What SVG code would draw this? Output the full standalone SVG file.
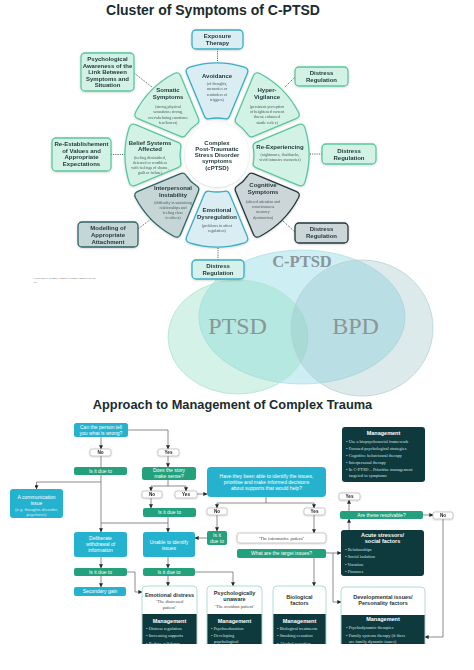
<svg xmlns="http://www.w3.org/2000/svg" width="474" height="670" viewBox="0 0 474 670">
<defs>
<style>
.s{font-family:"Liberation Sans",Arial,sans-serif}
.sb{font-family:"Liberation Sans",Arial,sans-serif;font-weight:bold}
.sf{font-family:"Liberation Serif","Times New Roman",serif}
.wt{font-family:"Liberation Sans",Arial,sans-serif;font-weight:bold;font-size:6px;fill:#1f3537;text-anchor:middle}
.wd{font-family:"Liberation Serif","Times New Roman",serif;font-size:4px;fill:#4a5a5a;text-anchor:middle}
.bt{font-family:"Liberation Sans",Arial,sans-serif;font-weight:bold;font-size:6px;fill:#1f3537;text-anchor:middle}
.mint{fill:#d3f2e6;stroke:#5cc6a0;stroke-width:1.3}
.blue{fill:#d9edf2;stroke:#3aaec6;stroke-width:1.3}
.gray{fill:#ccd6d8;stroke:#22383c;stroke-width:1.3}
.gteal{fill:#c6d6d6;stroke:#2f6467;stroke-width:1.3}
.dot{fill:none;stroke:#3c5a5c;stroke-width:1;stroke-dasharray:1 1.2}
.ln{fill:none;stroke:#707070;stroke-width:0.8}
.ar{marker-end:url(#ah)}
.cy{fill:#25b2cf}
.gr{fill:#22a17c}
.dk{fill:#0e3a3d}
.wl{fill:#fff;stroke:#a8a8a8;stroke-width:0.6}
.ft{font-family:"Liberation Sans",Arial,sans-serif;font-size:5px;fill:#fff;text-anchor:middle}
.lb{font-family:"Liberation Sans",Arial,sans-serif;font-weight:bold;font-size:4.6px;fill:#222;text-anchor:middle}
.mh{font-family:"Liberation Sans",Arial,sans-serif;font-weight:bold;font-size:5.5px;fill:#fff;text-anchor:middle}
.bu{font-family:"Liberation Serif","Times New Roman",serif;font-size:4.4px;fill:#cfe3e3}
.ht{font-family:"Liberation Sans",Arial,sans-serif;font-weight:bold;font-size:5.5px;fill:#1f3537;text-anchor:middle}
.hs{font-family:"Liberation Serif","Times New Roman",serif;font-size:4.5px;fill:#3a4a4a;text-anchor:middle}
.card{fill:#fff;stroke:#9ad6c4;stroke-width:0.8}
.vt{font-family:"Liberation Serif","Times New Roman",serif;fill:#8a9698;text-anchor:middle}
</style>
<path id="seg" d="M87.85,-27.36 A92,92 0 0 1 87.85,27.36 Q86.2,32.2 81.58,30.28 L39,12.63 Q35.3,11.1 36.28,7.25 A37,37 0 0 0 36.28,-7.25 Q35.3,-11.1 39,-12.63 L81.58,-30.28 Q86.2,-32.2 87.85,-27.36 Z"/>
<marker id="ah" viewBox="0 0 6 6" refX="5.5" refY="3" markerWidth="4" markerHeight="4" markerUnits="userSpaceOnUse" orient="auto"><path d="M0,0 L6,3 L0,6 z" fill="#1e2a2c"/></marker>
<filter id="sh" x="-20%" y="-20%" width="140%" height="140%"><feDropShadow dx="0" dy="0.6" stdDeviation="0.8" flood-color="#000" flood-opacity="0.2"/></filter>
<clipPath id="cut"><rect x="0" y="0" width="474" height="644"/></clipPath>
</defs>
<rect width="474" height="670" fill="#fff"/>

<text class="sb" x="213" y="14.5" font-size="14" text-anchor="middle" fill="#1b2b2d">Cluster of Symptoms of C-PTSD</text>

<!-- dotted connectors of wheel -->
<g id="wheel-connectors">
<path class="dot" d="M217.5,49 V62"/>
<path class="dot" d="M134,73 L152,87"/>
<path class="dot" d="M295,77 L284,88"/>
<path class="dot" d="M111,154.5 H126"/>
<path class="dot" d="M310,154 H322"/>
<path class="dot" d="M138,229 L151,219"/>
<path class="dot" d="M283,221 L295,232"/>
<path class="dot" d="M218,248 V260"/>
</g>

<!-- wheel segments -->
<g id="avoidance" filter="url(#sh)">
<use href="#seg" class="blue" transform="translate(217,155) rotate(-90)"/>
<text class="wt" x="217" y="78">Avoidance</text>
<text class="wd"><tspan x="217" y="85">(of thoughts,</tspan><tspan x="217" y="90">memories or</tspan><tspan x="217" y="95.5">reminders of</tspan><tspan x="217" y="100.5">triggers)</tspan></text>
</g>
<g id="hypervigilance" filter="url(#sh)">
<use href="#seg" class="mint" transform="translate(217,155) rotate(-45)"/>
<text class="wt"><tspan x="267" y="92">Hyper-</tspan><tspan x="267" y="99">Vigilance</tspan></text>
<text class="wd"><tspan x="267" y="107.5">(persistent perception</tspan><tspan x="267" y="113">of heightened current</tspan><tspan x="267" y="118">threat; enhanced</tspan><tspan x="267" y="123.5">startle reflex)</tspan></text>
</g>
<g id="reexperiencing" filter="url(#sh)">
<use href="#seg" class="mint" transform="translate(217,155)"/>
<text class="wt" x="280" y="149">Re-Experiencing</text>
<text class="wd"><tspan x="280" y="155.5">(nightmares, flashbacks,</tspan><tspan x="280" y="161">vivid intrusive memories)</tspan></text>
</g>
<g id="cognitive" filter="url(#sh)">
<use href="#seg" class="gray" transform="translate(217,155) rotate(45)"/>
<text class="wt"><tspan x="263" y="187">Cognitive</tspan><tspan x="263" y="194">Symptoms</tspan></text>
<text class="wd"><tspan x="263" y="202.5">(altered attention and</tspan><tspan x="263" y="207.5">consciousness</tspan><tspan x="263" y="213">memory</tspan><tspan x="263" y="218.5">dysfunction)</tspan></text>
</g>
<g id="emotional" filter="url(#sh)">
<use href="#seg" class="blue" transform="translate(217,155) rotate(90)"/>
<text class="wt"><tspan x="217" y="212">Emotional</tspan><tspan x="217" y="219">Dysregulation</tspan></text>
<text class="wd"><tspan x="217" y="226.5">(problems in affect</tspan><tspan x="217" y="232">regulation)</tspan></text>
</g>
<g id="interpersonal" filter="url(#sh)">
<use href="#seg" class="gteal" transform="translate(217,155) rotate(135)"/>
<text class="wt"><tspan x="173" y="190">Interpersonal</tspan><tspan x="173" y="197">Instability</tspan></text>
<text class="wd"><tspan x="173" y="204">(difficulty in sustaining</tspan><tspan x="173" y="209">relationships and</tspan><tspan x="173" y="214">feeling close</tspan><tspan x="173" y="219">to others)</tspan></text>
</g>
<g id="belief" filter="url(#sh)">
<use href="#seg" class="mint" transform="translate(217,155) rotate(180)"/>
<text class="wt"><tspan x="150" y="145">Belief Systems</tspan><tspan x="150" y="151">Affected</tspan></text>
<text class="wd"><tspan x="150" y="159">(feeling diminished,</tspan><tspan x="150" y="164">defeated or worthless</tspan><tspan x="150" y="168.5">with feelings of shame,</tspan><tspan x="150" y="173.5">guilt or failure)</tspan></text>
</g>
<g id="somatic" filter="url(#sh)">
<use href="#seg" class="mint" transform="translate(217,155) rotate(225)"/>
<text class="wt"><tspan x="168" y="92">Somatic</tspan><tspan x="168" y="99">Symptoms</tspan></text>
<text class="wd"><tspan x="168" y="107.5">(strong physical</tspan><tspan x="168" y="113">sensations; strong,</tspan><tspan x="168" y="118.5">overwhelming emotions:</tspan><tspan x="168" y="124">fear/horror)</tspan></text>
</g>
<g id="center" filter="url(#sh)">
<circle cx="217" cy="155" r="32" fill="#fff"/>
<text class="wt" font-size="5.8"><tspan x="217" y="144.5">Complex</tspan><tspan x="217" y="150.8">Post-Traumatic</tspan><tspan x="217" y="157.1">Stress Disorder</tspan><tspan x="217" y="163.4">symptoms</tspan><tspan x="217" y="169.7">(cPTSD)</tspan></text>
</g>

<!-- intervention boxes -->
<g id="exposure" filter="url(#sh)">
<rect class="blue" x="192" y="30" width="51" height="19" rx="4"/>
<text class="bt"><tspan x="217.5" y="38.3">Exposure</tspan><tspan x="217.5" y="45.2">Therapy</tspan></text>
</g>
<g id="psych-awareness" filter="url(#sh)">
<rect class="mint" x="81" y="53" width="53" height="38" rx="4"/>
<text class="bt"><tspan x="107.5" y="61.3">Psychological</tspan><tspan x="107.5" y="67.7">Awareness of the</tspan><tspan x="107.5" y="74">Link Between</tspan><tspan x="107.5" y="80.8">Symptoms and</tspan><tspan x="107.5" y="87.2">Situation</tspan></text>
</g>
<g id="distress-1" filter="url(#sh)">
<rect class="mint" x="295" y="67" width="53" height="19" rx="4"/>
<text class="bt"><tspan x="321.5" y="74.7">Distress</tspan><tspan x="321.5" y="81.8">Regulation</tspan></text>
</g>
<g id="reestablish" filter="url(#sh)">
<rect class="mint" x="52" y="138" width="59" height="33" rx="4"/>
<text class="bt"><tspan x="81.5" y="146">Re-Establishement</tspan><tspan x="81.5" y="152.5">of Values and</tspan><tspan x="81.5" y="159">Appropriate</tspan><tspan x="81.5" y="165.5">Expectations</tspan></text>
</g>
<g id="distress-2" filter="url(#sh)">
<rect class="mint" x="322" y="144" width="54" height="20" rx="4"/>
<text class="bt"><tspan x="349" y="153">Distress</tspan><tspan x="349" y="159.7">Regulation</tspan></text>
</g>
<g id="modelling" filter="url(#sh)">
<rect class="gteal" x="78" y="222" width="60" height="25" rx="4"/>
<text class="bt"><tspan x="108" y="230.3">Modelling of</tspan><tspan x="108" y="237">Appropriate</tspan><tspan x="108" y="243.7">Attachment</tspan></text>
</g>
<g id="distress-3" filter="url(#sh)">
<rect class="gray" x="295" y="223" width="53" height="20" rx="4"/>
<text class="bt"><tspan x="321.5" y="231.3">Distress</tspan><tspan x="321.5" y="238">Regulation</tspan></text>
</g>

<!-- Venn -->
<g id="venn">
<ellipse id="cptsd" cx="302" cy="317" rx="103" ry="67" fill="#cdeff4" stroke="#b5dde5" stroke-width="0.8"/>
<ellipse id="ptsd" cx="238" cy="337" rx="70" ry="57" fill="#8edcbf" fill-opacity="0.38" stroke="#b0e3cf" stroke-width="0.8"/>
<ellipse id="bpd" cx="362" cy="328" rx="71" ry="68" fill="#8bb9bf" fill-opacity="0.3" stroke="#b8d0d3" stroke-width="0.8"/>
<text class="vt" x="302" y="267" font-size="16.5" font-weight="bold">C-PTSD</text>
<text class="vt" x="237.5" y="334" font-size="24">PTSD</text>
<text class="vt" x="355.5" y="334" font-size="24">BPD</text>
</g>
<g id="distress-4" filter="url(#sh)">
<rect x="192" y="260" width="52" height="19" rx="4" fill="#d5f1ea" stroke="#3aaec6" stroke-width="1.3"/>
<text class="bt"><tspan x="218" y="268">Distress</tspan><tspan x="218" y="275.3">Regulation</tspan></text>
</g>
<text class="sf" x="32" y="279" font-size="2.8" fill="#666">A child/unwell trauma; Complex trauma; complex needs/</text>
<text class="sf" x="33" y="283" font-size="2.8" fill="#666">***</text>

<text class="sb" x="232.5" y="409" font-size="12.8" text-anchor="middle" fill="#1b2b2d">Approach to Management of Complex Trauma</text>

<!-- flowchart connectors -->
<g id="connectors">
<path class="ln ar" d="M101,437 V449"/>
<path class="ln ar" d="M128,430 H168 V449"/>
<path class="ln ar" d="M101,456 V532"/>
<path class="ln ar" d="M101,482 H36.5 V489"/>
<path class="ln" d="M101,523 H168"/>
<path class="ln ar" d="M168,517 V532"/>
<path class="ln ar" d="M168,456 V467"/>
<path class="ln" d="M168,480 V486 M151,486 H186"/>
<path class="ln ar" d="M151,486 V491"/>
<path class="ln ar" d="M186,486 V491"/>
<path class="ln ar" d="M151,498 V508"/>
<path class="ln ar" d="M197,494 H207"/>
<path class="ln" d="M266,497 V503 M217,503 H314"/>
<path class="ln ar" d="M217,503 V508"/>
<path class="ln ar" d="M314,503 V508"/>
<path class="ln ar" d="M217,515 V531"/>
<path class="ln ar" d="M207,538 H195"/>
<path class="ln ar" d="M314,515 V533"/>
<path class="ln ar" d="M314,558 V586"/>
<path class="ln ar" d="M326,553 H341"/>
<path class="ln ar" d="M333,553 V602 H341"/>
<path class="ln ar" d="M349,530 V519"/>
<path class="ln ar" d="M349,511 V500"/>
<path class="ln ar" d="M423,515 H433"/>
<path class="ln ar" d="M443,519 V637 H425"/>
<path class="ln ar" d="M101,557 V568"/>
<path class="ln ar" d="M101,576 V587"/>
<path class="ln ar" d="M127,572 H135 V592 H142"/>
<path class="ln ar" d="M168,557 V568"/>
<path class="ln ar" d="M168,576 V586"/>
<path class="ln ar" d="M195,572 H233 V586"/>
</g>

<!-- flowchart nodes -->
<g id="can-tell"><rect class="cy" x="74" y="423" width="54" height="14" rx="2.5"/><text class="ft"><tspan x="101" y="428.8">Can the person tell</tspan><tspan x="101" y="435.3">you what is wrong?</tspan></text></g>
<g id="no-1" filter="url(#sh)"><rect class="wl" x="90" y="449" width="21" height="7" rx="2"/><text class="lb" x="100.5" y="454.3">No</text></g>
<g id="yes-1" filter="url(#sh)"><rect class="wl" x="158" y="449" width="21" height="7" rx="2"/><text class="lb" x="168.5" y="454.3">Yes</text></g>
<g id="due-1"><rect class="gr" x="74" y="467" width="53" height="8" rx="2"/><text class="ft" x="100.5" y="472.8">Is it due to</text></g>
<g id="story"><rect class="gr" x="142" y="467" width="54" height="13" rx="2.5"/><text class="ft"><tspan x="169" y="472.4">Does the story</tspan><tspan x="169" y="478.2">make sense?</tspan></text></g>
<g id="no-2" filter="url(#sh)"><rect class="wl" x="142" y="491" width="20" height="7" rx="2"/><text class="lb" x="152" y="496.3">No</text></g>
<g id="yes-2" filter="url(#sh)"><rect class="wl" x="175" y="491" width="22" height="7" rx="2"/><text class="lb" x="186" y="496.3">Yes</text></g>
<g id="big-question"><rect class="cy" x="207" y="467" width="119" height="30" rx="4"/><text class="ft"><tspan x="266.5" y="477.7">Have they been able to identify the issues,</tspan><tspan x="266.5" y="483.7">prioritise and make informed decisions</tspan><tspan x="266.5" y="489.7">about supports that would help?</tspan></text></g>
<g id="management-top"><rect class="dk" x="342" y="427" width="83" height="55" rx="3"/><text class="mh" x="383.5" y="435">Management</text><text class="bu"><tspan x="346" y="442.5">• Use a biopsychosocial framework</tspan><tspan x="346" y="449.5">• Focused psychological strategies</tspan><tspan x="346" y="456.5">• Cognitive behavioural therapy</tspan><tspan x="346" y="464">• Interpersonal therapy</tspan><tspan x="346" y="471">• In C-PTSD – Prioritise management</tspan><tspan x="349" y="477">targeted to symptoms</tspan></text></g>
<g id="communication"><rect class="cy" x="10" y="489" width="53" height="29" rx="3"/><text class="ft"><tspan x="36.5" y="498.5">A communication</tspan><tspan x="36.5" y="504.5">issue</tspan></text><text class="s" font-size="4.2" fill="#d8f1f7" text-anchor="middle"><tspan x="36.5" y="510.5">(e.g. thoughts disorder,</tspan><tspan x="36.5" y="515.5">psychosis)</tspan></text></g>
<g id="due-2"><rect class="gr" x="143" y="508" width="53" height="9" rx="2"/><text class="ft" x="169.5" y="514.2">Is it due to</text></g>
<g id="no-3" filter="url(#sh)"><rect class="wl" x="207" y="508" width="20" height="7" rx="2"/><text class="lb" x="217" y="513.3">No</text></g>
<g id="yes-3" filter="url(#sh)"><rect class="wl" x="304" y="508" width="21" height="7" rx="2"/><text class="lb" x="314.5" y="513.3">Yes</text></g>
<g id="yes-4" filter="url(#sh)"><rect class="wl" x="339" y="493" width="21" height="7" rx="2"/><text class="lb" x="349.5" y="498.3">Yes</text></g>
<g id="resolvable"><rect class="gr" x="340" y="511" width="83" height="8" rx="2"/><text class="ft" x="381.5" y="516.8">Are these resolvable?</text></g>
<g id="no-4" filter="url(#sh)"><rect class="wl" x="433" y="512" width="20" height="7" rx="2"/><text class="lb" x="443" y="517.3">No</text></g>
<g id="acute"><rect class="dk" x="341" y="530" width="83" height="46" rx="3"/><text class="mh"><tspan x="382.5" y="536.5">Acute stressors/</tspan><tspan x="382.5" y="543">social factors</tspan></text><text class="bu"><tspan x="345" y="551">• Relationships</tspan><tspan x="345" y="558">• Social isolation</tspan><tspan x="345" y="565.5">• Vocation</tspan><tspan x="345" y="572.5">• Finances</tspan></text></g>
<g id="deliberate"><rect class="cy" x="74" y="532" width="53" height="25" rx="2.5"/><text class="ft"><tspan x="100.5" y="539.7">Deliberate</tspan><tspan x="100.5" y="545.7">withdrawal of</tspan><tspan x="100.5" y="551.7">information</tspan></text></g>
<g id="unable"><rect class="cy" x="143" y="532" width="52" height="25" rx="2.5"/><text class="ft"><tspan x="169" y="543.7">Unable to identify</tspan><tspan x="169" y="549.7">issues</tspan></text></g>
<g id="due-small"><rect class="gr" x="207" y="531" width="20" height="14" rx="2"/><text class="ft"><tspan x="217" y="536.9">Is it</tspan><tspan x="217" y="543.3">due to</tspan></text></g>
<g id="informative" filter="url(#sh)"><rect class="wl" x="237" y="533" width="89" height="10" rx="2.5"/><text class="hs" x="281.5" y="539.6">‘The informative patient’</text></g>
<g id="target"><rect class="gr" x="237" y="549" width="89" height="9" rx="2"/><text class="ft" x="281.5" y="555.3">What are the target issues?</text></g>
<g id="due-3"><rect class="gr" x="74" y="568" width="53" height="8" rx="2"/><text class="ft" x="100.5" y="573.8">Is it due to</text></g>
<g id="due-4"><rect class="gr" x="143" y="568" width="52" height="8" rx="2"/><text class="ft" x="169" y="573.8">Is it due to</text></g>
<g id="secondary-gain"><rect class="cy" x="74" y="587" width="52" height="9" rx="2"/><text class="ft" x="100" y="593.3">Secondary gain</text></g>

<g id="emotional-distress" clip-path="url(#cut)">
<rect class="card" x="142" y="586" width="55" height="62" rx="4"/>
<rect class="dk" x="142.4" y="614" width="54.2" height="34"/>
<text class="ht" x="169.5" y="597">Emotional distress</text>
<text class="hs"><tspan x="169.5" y="603">‘The distressed</tspan><tspan x="169.5" y="608.5">patient’</tspan></text>
<text class="mh" x="169.5" y="622.5">Management</text>
<text class="bu"><tspan x="146" y="630">• Distress regulation</tspan><tspan x="146" y="637">• Increasing supports</tspan><tspan x="146" y="644.5">• Reduce self-harm</tspan></text>
</g>
<g id="psych-unaware" clip-path="url(#cut)">
<rect class="card" x="207" y="586" width="55" height="62" rx="4"/>
<rect class="dk" x="207.4" y="614" width="54.2" height="34"/>
<text class="ht"><tspan x="234.5" y="594.5">Psychologically</tspan><tspan x="234.5" y="601">unaware</tspan></text>
<text class="hs" x="234.5" y="607.5">‘The avoidant patient’</text>
<text class="mh" x="234.5" y="622.5">Management</text>
<text class="bu"><tspan x="211" y="630">• Psychoeducation</tspan><tspan x="211" y="637">• Developing</tspan><tspan x="214" y="643">psychological</tspan></text>
</g>
<g id="biological" clip-path="url(#cut)">
<rect class="card" x="273" y="586" width="53" height="62" rx="4"/>
<rect class="dk" x="273.4" y="614" width="52.2" height="34"/>
<text class="ht"><tspan x="299.5" y="598.5">Biological</tspan><tspan x="299.5" y="605">factors</tspan></text>
<text class="mh" x="299.5" y="622.5">Management</text>
<text class="bu"><tspan x="277" y="630">• Biological treatments</tspan><tspan x="277" y="637">• Smoking cessation</tspan><tspan x="277" y="644.5">• Alcohol cessation</tspan></text>
</g>
<g id="developmental" clip-path="url(#cut)">
<rect class="card" x="341" y="587" width="84" height="61" rx="4"/>
<rect class="dk" x="341.4" y="615" width="83.2" height="33"/>
<text class="ht"><tspan x="383" y="598.5">Developmental issues/</tspan><tspan x="383" y="605">Personality factors</tspan></text>
<text class="mh" x="383" y="621">Management</text>
<text class="bu"><tspan x="346" y="629">• Psychodynamic therapies</tspan><tspan x="346" y="636.5">• Family systems therapy (if there</tspan><tspan x="349" y="642.5">are family dynamic issues)</tspan></text>
</g>
</svg>
